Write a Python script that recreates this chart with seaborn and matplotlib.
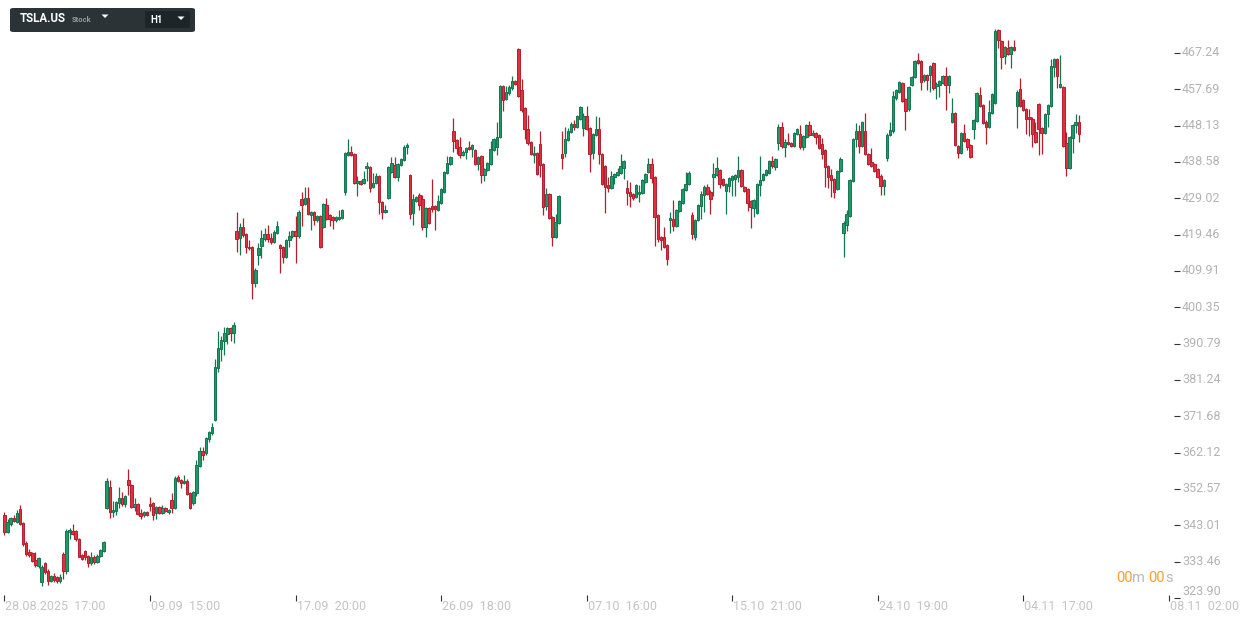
import numpy as np
import pandas as pd
import matplotlib
matplotlib.use("Agg")
import matplotlib.pyplot as plt
import seaborn as sns
from matplotlib.patches import FancyBboxPatch, Polygon
from matplotlib import transforms as mtransforms

# ---------------- data (hourly OHLC, TSLA.US) ----------------
opens = [
    345.8, 341.2, 343.4, 345.0, 344.0, 347.4, 343.6, 338.4, 335.9, 335.7,
    333.8, 332.2, 328.0, 333.0, 331.1, 328.3, 329.8, 329.3, 328.3, 335.5,
    331.0, 341.2, 341.4, 341.5, 339.4, 335.3, 336.3, 334.9, 333.0, 334.7,
    333.3, 335.0, 336.2, 347.7, 353.1, 346.4, 346.7, 348.9, 350.2, 348.6,
    355.0, 353.6, 347.8, 348.6, 346.2, 345.6, 346.5, 348.6, 348.9, 346.3,
    347.8, 346.3, 347.6, 346.4, 349.8, 347.6, 355.7, 355.0, 354.1, 354.8,
    351.5, 349.0, 351.5, 358.7, 362.6, 362.0, 365.6, 367.2, 370.8, 384.4,
    389.4, 391.4, 393.4, 394.9, 393.6, 420.4, 418.5, 421.4, 419.6, 416.3,
    416.1, 406.7, 414.1, 416.6, 418.3, 419.6, 418.5, 417.5, 420.0, 416.7,
    416.2, 413.7, 418.1, 419.0, 420.3, 419.0, 428.8, 427.6, 429.0, 424.6,
    425.3, 423.2, 424.4, 421.4, 427.3, 424.7, 424.0, 423.3, 423.5, 423.8,
    430.6, 440.4, 441.3, 440.7, 433.0, 433.6, 433.0, 436.9, 437.2, 432.1,
    433.0, 434.9, 428.1, 425.4, 429.2, 436.0, 437.8, 434.6, 437.8, 439.1,
    442.5, 435.2, 425.1, 428.3, 429.9, 428.8, 421.4, 426.4, 427.0, 426.9,
    426.0, 427.9, 430.8, 435.6, 438.1, 446.7, 444.4, 442.5, 440.4, 441.3,
    442.6, 441.9, 441.8, 438.1, 440.2, 435.2, 436.5, 438.1, 441.7, 442.6,
    445.1, 458.6, 455.1, 456.6, 457.9, 459.9, 468.2, 457.5, 452.7, 447.2,
    443.7, 440.4, 440.9, 443.2, 438.0, 427.0, 430.1, 424.0, 418.9, 422.6,
    440.6, 441.0, 444.4, 446.4, 448.6, 447.9, 449.9, 447.4, 450.7, 447.4,
    440.9, 445.7, 447.2, 440.6, 437.5, 432.5, 431.7, 434.6, 435.2, 435.8,
    436.9, 431.7, 430.8, 430.1, 429.3, 430.2, 430.4, 433.4, 436.0, 438.0,
    434.6, 424.7, 418.8, 418.8, 416.8, 423.2, 423.6, 421.8, 425.8, 427.7,
    431.2, 432.8, 424.7, 418.9, 423.3, 427.0, 429.9, 431.9, 430.8, 434.5,
    435.2, 436.5, 434.0, 430.9, 432.3, 433.9, 434.0, 434.7, 436.5, 431.9,
    431.4, 428.2, 426.4, 425.1, 432.5, 433.9, 435.2, 435.8, 438.9, 437.2,
    443.5, 447.7, 442.4, 443.9, 443.5, 442.9, 445.9, 445.8, 442.5, 445.1,
    448.2, 445.7, 446.1, 445.7, 443.2, 441.8, 437.5, 435.2, 434.0, 431.4,
    436.2, 419.8, 422.0, 424.4, 433.6, 444.6, 446.7, 442.8, 446.7, 440.6,
    438.5, 438.1, 436.7, 435.0, 432.3, 439.6, 445.7, 446.6, 455.3, 457.1,
    459.4, 455.1, 452.4, 458.8, 460.9, 465.4, 465.0, 460.0, 461.4, 461.4,
    464.5, 458.5, 458.9, 459.4, 461.2, 458.8, 449.2, 451.4, 442.8, 441.0,
    446.1, 444.6, 443.1, 447.3, 449.4, 456.2, 453.6, 449.2, 447.9, 451.5,
    454.0, 473.3, 470.4, 466.5, 468.6, 466.9, 468.9, 453.3, 457.7, 454.9,
    452.5, 450.5, 450.0, 446.4, 453.8, 447.4, 446.1, 451.2, 453.4, 463.6,
    465.6, 458.4, 458.2, 443.5, 437.1, 445.0, 448.3, 449.0,
]
highs = [
    346.5, 344.6, 345.3, 345.6, 347.0, 348.4, 343.9, 338.8, 336.9, 336.1,
    336.0, 334.7, 332.7, 333.4, 331.4, 330.0, 330.6, 329.6, 330.3, 336.0,
    342.0, 342.3, 343.4, 341.9, 339.6, 335.6, 336.6, 335.2, 336.1, 335.1,
    335.4, 336.9, 339.0, 355.5, 355.0, 349.5, 349.5, 353.0, 351.9, 351.0,
    357.9, 353.9, 350.3, 348.9, 347.3, 346.9, 346.8, 350.5, 349.2, 348.1,
    348.1, 348.3, 347.9, 347.4, 351.6, 355.9, 356.3, 355.3, 356.3, 355.1,
    351.8, 352.1, 360.3, 363.5, 363.5, 366.3, 367.8, 369.8, 386.8, 394.0,
    392.8, 395.2, 395.3, 395.3, 396.6, 425.4, 422.6, 423.8, 420.0, 418.0,
    416.4, 410.8, 417.2, 420.7, 421.2, 422.0, 420.0, 420.7, 423.1, 417.1,
    416.5, 418.4, 420.4, 420.6, 424.4, 425.9, 430.8, 432.1, 431.9, 425.6,
    425.6, 424.7, 424.7, 427.9, 429.0, 425.0, 424.3, 424.4, 426.0, 426.3,
    441.2, 444.6, 442.9, 441.0, 434.8, 433.9, 436.1, 438.6, 437.5, 435.6,
    435.8, 435.2, 428.4, 427.3, 437.5, 440.0, 440.0, 438.4, 439.6, 443.0,
    443.6, 435.5, 430.2, 429.6, 430.5, 429.9, 426.7, 426.7, 434.0, 427.2,
    430.0, 431.7, 436.2, 440.2, 440.1, 450.1, 444.7, 445.2, 441.6, 442.5,
    444.0, 443.3, 442.1, 440.1, 440.5, 437.0, 438.5, 444.0, 444.9, 449.2,
    458.9, 458.9, 458.5, 458.7, 461.3, 460.2, 468.5, 460.4, 453.0, 450.9,
    444.0, 442.8, 441.2, 446.6, 438.3, 431.6, 430.4, 424.3, 424.9, 430.0,
    446.7, 447.7, 447.6, 449.2, 449.7, 451.0, 453.3, 451.5, 453.3, 447.7,
    446.2, 450.7, 450.5, 440.9, 437.8, 434.7, 436.1, 435.7, 437.0, 440.7,
    439.1, 433.9, 433.3, 430.4, 432.7, 432.4, 434.2, 435.7, 439.6, 439.5,
    434.9, 424.9, 419.1, 421.4, 417.1, 425.3, 428.6, 426.3, 428.6, 431.8,
    436.0, 436.1, 425.5, 423.6, 427.6, 430.9, 432.4, 432.7, 431.1, 438.2,
    440.0, 436.8, 434.3, 433.0, 434.6, 435.2, 435.5, 440.2, 436.8, 432.2,
    431.7, 428.5, 428.9, 433.0, 440.2, 435.7, 436.8, 439.2, 440.2, 439.6,
    448.6, 449.2, 444.5, 446.1, 443.8, 446.4, 447.5, 448.2, 445.7, 448.6,
    449.3, 447.1, 446.4, 446.0, 444.9, 442.1, 437.8, 436.7, 434.3, 436.5,
    439.8, 423.0, 425.9, 434.2, 444.9, 448.7, 448.2, 449.3, 451.5, 440.9,
    442.2, 438.4, 437.0, 435.3, 434.0, 446.3, 449.1, 457.2, 457.8, 459.8,
    459.7, 455.4, 458.5, 461.1, 465.5, 467.1, 465.3, 461.7, 461.7, 464.1,
    464.8, 459.5, 460.2, 461.5, 463.5, 461.5, 455.4, 451.7, 443.1, 446.4,
    448.5, 444.9, 443.4, 449.9, 456.9, 458.4, 453.9, 449.5, 455.0, 456.8,
    473.6, 473.6, 470.7, 469.2, 470.6, 469.2, 470.6, 457.4, 460.6, 455.2,
    452.8, 452.4, 450.3, 449.0, 454.1, 447.7, 451.4, 453.9, 465.6, 465.9,
    465.9, 466.7, 458.5, 446.5, 445.5, 448.6, 451.3, 450.9,
]
lows = [
    340.4, 341.0, 342.9, 343.8, 343.6, 343.2, 337.5, 335.0, 334.8, 333.4,
    332.0, 331.8, 327.0, 330.3, 327.4, 328.0, 328.2, 327.8, 327.9, 328.9,
    330.2, 339.3, 340.6, 339.0, 334.6, 333.8, 334.0, 332.1, 332.7, 332.9,
    333.0, 334.7, 335.9, 347.4, 344.9, 345.2, 345.8, 347.7, 348.2, 347.9,
    351.1, 347.5, 346.9, 345.8, 344.7, 345.3, 345.4, 346.9, 344.3, 344.8,
    345.9, 346.0, 346.4, 346.1, 346.3, 347.3, 354.3, 352.9, 353.8, 351.0,
    347.3, 348.3, 350.7, 358.4, 360.1, 361.6, 365.0, 366.8, 370.5, 383.3,
    386.3, 387.8, 390.8, 391.6, 390.9, 414.8, 414.2, 418.9, 414.6, 415.4,
    402.5, 405.8, 411.5, 413.4, 417.8, 417.6, 416.9, 417.2, 419.6, 409.5,
    412.0, 413.4, 416.3, 418.7, 412.1, 418.7, 421.8, 427.3, 424.6, 420.7,
    422.0, 422.9, 416.0, 421.1, 423.2, 421.8, 421.0, 422.9, 423.2, 423.5,
    429.9, 440.1, 440.1, 432.7, 429.6, 432.4, 432.7, 433.5, 430.6, 431.8,
    432.7, 425.0, 423.5, 425.1, 428.9, 435.7, 434.3, 433.5, 437.5, 438.8,
    440.7, 423.5, 422.1, 428.0, 426.0, 420.6, 418.9, 422.3, 425.5, 420.7,
    425.7, 427.6, 430.5, 435.3, 437.8, 441.3, 440.6, 439.6, 440.1, 439.4,
    441.6, 440.0, 437.8, 436.5, 433.0, 433.5, 436.2, 437.8, 441.4, 440.4,
    444.8, 451.9, 454.8, 456.3, 457.6, 458.7, 455.7, 451.6, 444.6, 443.0,
    440.3, 438.4, 435.1, 434.6, 424.7, 425.9, 423.5, 416.6, 418.6, 422.3,
    436.8, 439.8, 444.1, 446.1, 447.0, 447.6, 449.6, 445.4, 446.9, 436.0,
    439.4, 445.4, 438.0, 432.4, 425.1, 430.8, 431.4, 432.7, 434.9, 435.5,
    434.0, 427.3, 426.7, 428.5, 429.0, 428.0, 430.1, 433.1, 435.7, 433.0,
    416.4, 417.5, 415.3, 416.0, 411.5, 420.0, 420.5, 421.5, 425.5, 427.4,
    430.9, 432.5, 418.4, 418.0, 423.0, 423.6, 425.3, 429.9, 424.8, 429.5,
    434.9, 431.6, 432.2, 424.8, 430.7, 429.6, 429.6, 433.4, 432.0, 430.7,
    425.6, 421.2, 424.2, 424.8, 429.5, 433.6, 434.9, 435.5, 437.1, 436.4,
    441.8, 442.2, 439.8, 443.0, 442.5, 442.6, 445.6, 441.9, 441.6, 444.8,
    445.4, 445.4, 443.2, 441.9, 439.3, 432.1, 431.7, 429.3, 429.0, 431.1,
    435.9, 413.7, 420.4, 424.1, 433.3, 442.4, 441.0, 442.5, 440.3, 437.7,
    437.2, 436.0, 434.4, 429.9, 429.9, 438.9, 445.4, 446.3, 455.0, 456.8,
    454.4, 447.0, 452.1, 458.5, 460.6, 464.4, 457.6, 459.7, 457.6, 456.9,
    457.6, 455.2, 455.6, 459.1, 452.3, 456.6, 448.9, 442.8, 439.6, 440.7,
    443.9, 441.6, 439.5, 444.5, 449.1, 453.0, 448.6, 443.3, 447.6, 451.2,
    453.7, 468.5, 463.0, 464.4, 466.6, 463.4, 467.7, 447.6, 453.0, 452.0,
    445.8, 445.5, 442.5, 443.6, 440.3, 440.6, 445.8, 447.9, 453.1, 461.0,
    458.0, 458.1, 442.6, 435.0, 436.8, 441.0, 446.2, 443.7,
]
closes = [
    341.2, 343.8, 345.0, 344.2, 346.3, 343.4, 338.1, 335.5, 335.1, 333.7,
    332.6, 334.3, 332.1, 330.7, 328.3, 329.6, 328.6, 328.3, 329.5, 331.0,
    341.5, 341.9, 340.8, 339.4, 334.8, 334.2, 334.6, 333.1, 334.6, 333.3,
    335.0, 336.6, 338.5, 354.8, 346.4, 347.1, 349.2, 350.2, 348.6, 350.6,
    353.6, 347.8, 348.6, 346.1, 345.4, 346.4, 345.8, 348.0, 345.8, 347.8,
    346.3, 347.6, 346.7, 347.1, 347.6, 355.5, 354.6, 354.1, 354.7, 351.3,
    347.7, 351.8, 358.9, 362.6, 361.4, 366.0, 367.5, 368.9, 384.6, 389.6,
    391.8, 393.6, 394.9, 393.6, 395.7, 418.3, 421.4, 419.4, 416.1, 415.9,
    406.7, 410.2, 415.9, 418.5, 419.7, 418.3, 417.6, 420.1, 421.8, 415.9,
    413.7, 418.1, 419.1, 420.3, 419.2, 425.5, 427.3, 429.0, 424.9, 425.3,
    423.2, 424.4, 416.2, 427.6, 423.5, 423.5, 423.2, 424.1, 424.1, 426.0,
    440.9, 441.3, 440.4, 433.0, 433.6, 432.8, 434.0, 437.5, 431.7, 433.0,
    434.9, 428.0, 425.4, 426.0, 437.2, 438.2, 434.6, 438.1, 439.3, 442.4,
    443.1, 424.8, 428.8, 429.3, 427.3, 421.4, 426.4, 422.6, 426.2, 426.2,
    428.2, 431.4, 435.9, 438.2, 439.8, 444.1, 442.2, 440.4, 441.3, 442.2,
    441.9, 443.0, 438.1, 439.8, 435.2, 436.7, 438.2, 441.9, 444.6, 445.2,
    458.6, 454.9, 457.1, 458.4, 459.9, 459.0, 456.0, 452.2, 447.2, 443.5,
    440.6, 441.0, 435.4, 437.8, 426.8, 430.1, 423.8, 418.9, 422.9, 429.7,
    439.6, 444.6, 446.6, 448.6, 447.9, 450.7, 452.9, 450.7, 447.2, 440.6,
    445.9, 447.2, 440.6, 432.7, 431.9, 431.7, 434.9, 435.4, 436.0, 437.4,
    438.7, 430.5, 429.7, 429.2, 432.4, 430.8, 433.9, 435.4, 438.0, 434.3,
    424.0, 418.3, 418.1, 416.3, 413.0, 423.8, 421.8, 426.0, 428.3, 431.5,
    432.8, 435.8, 419.6, 423.3, 427.3, 430.2, 431.9, 430.2, 428.8, 435.4,
    436.9, 432.8, 432.5, 432.7, 434.3, 434.9, 435.2, 436.5, 432.3, 431.0,
    427.9, 426.7, 428.6, 432.7, 433.9, 435.4, 436.5, 438.9, 437.4, 439.3,
    447.7, 442.8, 443.9, 443.3, 442.8, 446.1, 447.2, 442.6, 445.4, 448.3,
    445.7, 446.3, 445.2, 442.2, 440.6, 437.2, 434.7, 433.9, 430.8, 436.2,
    439.3, 422.6, 424.8, 433.9, 444.6, 446.7, 442.8, 449.0, 440.6, 438.0,
    437.5, 436.3, 434.7, 432.3, 433.7, 445.7, 447.0, 455.8, 457.5, 459.5,
    454.7, 452.0, 458.2, 460.8, 465.2, 464.7, 459.7, 461.4, 460.0, 463.8,
    457.9, 459.2, 459.9, 461.2, 458.8, 461.2, 451.4, 443.1, 440.9, 446.1,
    444.2, 442.6, 439.8, 449.6, 456.6, 453.3, 448.9, 447.9, 451.8, 456.5,
    473.0, 470.7, 466.3, 468.9, 466.9, 468.9, 468.0, 457.1, 453.3, 452.3,
    449.9, 449.8, 445.8, 443.9, 447.2, 446.1, 451.1, 453.6, 463.8, 465.6,
    461.3, 459.0, 442.9, 437.1, 445.2, 448.3, 449.0, 445.8,
]

time_labels = ["28.08.2025  17:00", "09.09  15:00", "17.09  20:00", "26.09  18:00",
               "07.10  16:00", "15.10  21:00", "24.10  19:00", "04.11  17:00",
               "08.11  02:00"]
bars_per_label = 47
price_ticks = [323.90, 333.46, 343.01, 352.57, 362.12, 371.68, 381.24, 390.79,
               400.35, 409.91, 419.46, 429.02, 438.58, 448.13, 457.69, 467.24]
price_labels = ["323.90", "333.46", "343.01", "352.57", "362.12", "371.68",
                "381.24", "390.79", "400.35", "409.91", "419.46", "429.02",
                "438.58", "448.13", "457.69", "467.24"]
symbol = "TSLA.US"
asset_type = "Stock"
timeframe = "H1"
countdown = ["00", "m", "00", "s"]

# ---------------- style ----------------
sns.set_theme(style="white")
plt.rcParams['font.family'] = ['Roboto', 'DejaVu Sans']

W, H = 1242, 623
fig = plt.figure(figsize=(W / 100, H / 100), dpi=100)
fig.patch.set_facecolor("white")

PLOT_R = 1174   # px, right edge of plot area
PLOT_B = 598    # px, bottom of plot area
ax = fig.add_axes([0, 1 - PLOT_B / H, PLOT_R / W, PLOT_B / H])
ax.set_facecolor("white")

df = pd.DataFrame(dict(open=opens, high=highs, low=lows, close=closes))
df["idx"] = np.arange(len(df))
df["up"] = df["close"] >= df["open"]

UP_FILL, UP_EDGE = "#1f9a67", "#157551"
DN_FILL, DN_EDGE = "#e2303f", "#b21f2d"

edge_cols = np.where(df["up"], UP_EDGE, DN_EDGE)
fill_cols = np.where(df["up"], UP_FILL, DN_FILL)

ax.vlines(df["idx"], df["low"], df["high"], colors=edge_cols, linewidth=0.9, zorder=2)
bottom = np.minimum(df["open"], df["close"])
height = np.maximum(np.abs(df["close"] - df["open"]), 0.35)
ax.bar(df["idx"], height, bottom=bottom, width=0.8, color=fill_cols,
       edgecolor=edge_cols, linewidth=0.7, zorder=3)

# scales: bar spacing ~3.096 px, price scale 0.26283 $/px
px_per_bar = 3.096
x0 = -4.5 / px_per_bar
ax.set_xlim(x0, x0 + PLOT_R / px_per_bar)
usd_per_px = 0.26283
top_price = 467.24 + 53 * usd_per_px
ax.set_ylim(top_price - PLOT_B * usd_per_px, top_price)

for s in ax.spines.values():
    s.set_visible(False)

tick_idx = [k * bars_per_label for k in range(len(time_labels))]
ax.set_xticks(tick_idx)
ax.set_xticklabels([])
ax.tick_params(axis="x", direction="inout", length=4, width=0.8, color="#333333", bottom=True)
ax.yaxis.tick_right()
ax.set_yticks(price_ticks)
ax.set_yticklabels([])
ax.tick_params(axis="y", direction="out", length=4.3, width=0.8, color="#333333", right=True, left=False)
ax.grid(False)

lab_col_y = "#b3b3b3"
lab_col_x = "#c4c4c4"
tx = mtransforms.blended_transform_factory(ax.transData, ax.transAxes)
for i, lab in zip(tick_idx, time_labels):
    ax.text(i, 0, lab, transform=mtransforms.offset_copy(tx, fig=fig, x=1, y=-8, units="dots"),
            ha="left", va="center", fontsize=9, color=lab_col_x, clip_on=False)

ty = mtransforms.blended_transform_factory(ax.transAxes, ax.transData)
for v, lab in zip(price_ticks, price_labels):
    dy = 6 if v == price_ticks[0] else 0
    ax.text(1, v, lab, transform=mtransforms.offset_copy(ty, fig=fig, x=8, y=dy, units="dots"),
            ha="left", va="center", fontsize=9, color=lab_col_y, clip_on=False)

# ---------------- header box ----------------
def fx(x):
    return x / W

def fy(y):
    return 1 - y / H

hdr = FancyBboxPatch((fx(10), fy(32)), fx(185), 24 / H, boxstyle="round,pad=0,rounding_size=0.003",
                     transform=fig.transFigure, facecolor="#2b3337", edgecolor="none")
fig.patches.append(hdr)
inner = FancyBboxPatch((fx(145), fy(28)), fx(45), 17 / H, boxstyle="round,pad=0,rounding_size=0.002",
                       transform=fig.transFigure, facecolor="#1e2528", edgecolor="none")
fig.patches.append(inner)
fig.text(fx(20), fy(19), symbol, fontsize=8.3, fontweight="bold", color="white", va="center", ha="left")
fig.text(fx(72), fy(19.5), asset_type, fontsize=5.5, fontweight="bold", color="#8f9a9f", va="center", ha="left")
fig.text(fx(150), fy(20), timeframe, fontsize=7, fontweight="bold", color="white", va="center", ha="left")
for cx, cy in [(105, 16), (181, 18)]:
    tri = Polygon([(fx(cx - 3.5), fy(cy - 1.5)), (fx(cx + 3.5), fy(cy - 1.5)), (fx(cx), fy(cy + 2))],
                  closed=True, transform=fig.transFigure, facecolor="white", edgecolor="none")
    fig.patches.append(tri)

# ---------------- countdown ----------------
cd_x = [1116, 1132, 1148, 1165]
cd_col = ["#f7a02e", "#b8b8b8", "#f7a02e", "#b8b8b8"]
for x, t, c in zip(cd_x, countdown, cd_col):
    fig.text(fx(x), fy(578), t, fontsize=10.5, color=c, va="center", ha="left")

fig.savefig("out.png", dpi=100, facecolor="white")
